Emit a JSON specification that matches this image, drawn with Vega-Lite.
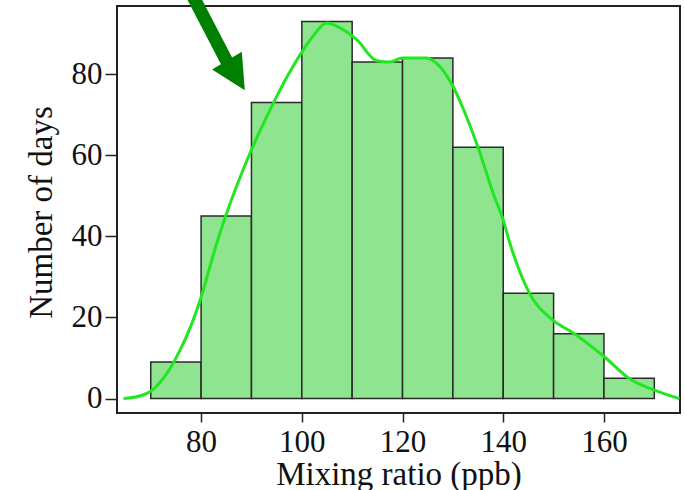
{
  "$schema": "https://vega.github.io/schema/vega-lite/v6.json",
  "autosize": "none",
  "width": 563,
  "height": 407,
  "padding": {"left": 117, "top": 6, "right": 5, "bottom": 77},
  "background": "white",
  "config": {
    "view": {"stroke": "#222", "strokeWidth": 2},
    "font": "Liberation Serif",
    "axis": {
      "labelFont": "Liberation Serif",
      "titleFont": "Liberation Serif",
      "labelColor": "#111",
      "titleColor": "#111",
      "labelFontSize": 31,
      "titleFontSize": 33,
      "titleFontWeight": "normal",
      "tickColor": "#222",
      "tickWidth": 1.5,
      "domain": false,
      "grid": false
    }
  },
  "datasets": {
    "bars": [
      {"bin_start": 70, "bin_end": 80, "days": 9},
      {"bin_start": 80, "bin_end": 90, "days": 45},
      {"bin_start": 90, "bin_end": 100, "days": 73},
      {"bin_start": 100, "bin_end": 110, "days": 93},
      {"bin_start": 110, "bin_end": 120, "days": 83},
      {"bin_start": 120, "bin_end": 130, "days": 84},
      {"bin_start": 130, "bin_end": 140, "days": 62},
      {"bin_start": 140, "bin_end": 150, "days": 26},
      {"bin_start": 150, "bin_end": 160, "days": 16},
      {"bin_start": 160, "bin_end": 170, "days": 5}
    ],
    "curve": [
      {"ratio": 64.6, "density": 0},
      {"ratio": 68, "density": 0.7},
      {"ratio": 70, "density": 1.8},
      {"ratio": 73.2, "density": 6.2},
      {"ratio": 75.8, "density": 11.9},
      {"ratio": 78, "density": 18},
      {"ratio": 80, "density": 25},
      {"ratio": 83.1, "density": 38.3},
      {"ratio": 84.6, "density": 44},
      {"ratio": 89.7, "density": 60.5},
      {"ratio": 93.7, "density": 71.2},
      {"ratio": 97.1, "density": 79.4},
      {"ratio": 100.3, "density": 86},
      {"ratio": 102.2, "density": 89.3},
      {"ratio": 105, "density": 92.6},
      {"ratio": 107.6, "density": 91.4},
      {"ratio": 110.9, "density": 88.5},
      {"ratio": 114.9, "density": 83.3},
      {"ratio": 117.5, "density": 83},
      {"ratio": 120, "density": 84},
      {"ratio": 124.7, "density": 84},
      {"ratio": 127.4, "density": 81.9},
      {"ratio": 130, "density": 77},
      {"ratio": 132.7, "density": 69.5},
      {"ratio": 135.4, "density": 60.5},
      {"ratio": 138, "density": 50.6},
      {"ratio": 140, "density": 44},
      {"ratio": 141.3, "density": 38.4},
      {"ratio": 145.2, "density": 26},
      {"ratio": 149.9, "density": 19.3},
      {"ratio": 153.9, "density": 16.2},
      {"ratio": 159.9, "density": 10.5},
      {"ratio": 165.1, "density": 4.9},
      {"ratio": 170.4, "density": 1.9},
      {"ratio": 175, "density": 0}
    ],
    "arrow_shaft": [
      {"x": 78.25, "y": 99.5, "x2": 85.5, "y2": 82.2}
    ],
    "arrow_head": [
      {"x": 88.68, "y": 76.0}
    ]
  },
  "layer": [
    {
      "data": {"name": "bars"},
      "mark": {"type": "bar", "fill": "#8fe48f", "stroke": "#2a2a2a", "strokeWidth": 1.5},
      "encoding": {
        "x": {
          "field": "bin_start",
          "type": "quantitative",
          "scale": {"domain": [63.3, 175.1], "nice": false, "zero": false},
          "axis": {
            "values": [80, 100, 120, 140, 160],
            "tickSize": 9,
            "labelPadding": 5,
            "title": "Mixing ratio (ppb)",
            "titleBaseline": "alphabetic",
            "titleY": 71
          }
        },
        "x2": {"field": "bin_end"},
        "y": {
          "field": "days",
          "type": "quantitative",
          "scale": {"domain": [-3.55, 96.8], "nice": false, "zero": false},
          "axis": {
            "values": [0, 20, 40, 60, 80],
            "tickSize": 12,
            "labelPadding": 3,
            "title": "Number of days",
            "titleBaseline": "alphabetic",
            "titleX": -66,
            "titleY": 206,
            "titleAngle": -90
          }
        },
        "y2": {"datum": 0}
      }
    },
    {
      "data": {"name": "curve"},
      "mark": {"type": "line", "color": "#22e622", "strokeWidth": 3, "interpolate": "monotone"},
      "encoding": {
        "x": {"field": "ratio", "type": "quantitative"},
        "y": {"field": "density", "type": "quantitative"}
      }
    },
    {
      "data": {"name": "arrow_shaft"},
      "mark": {"type": "rule", "color": "#008000", "strokeWidth": 13, "strokeCap": "butt", "clip": false},
      "encoding": {
        "x": {"field": "x", "type": "quantitative"},
        "y": {"field": "y", "type": "quantitative"},
        "x2": {"field": "x2"},
        "y2": {"field": "y2"}
      }
    },
    {
      "data": {"name": "arrow_head"},
      "mark": {
        "type": "point",
        "shape": "M0,0 L1.02,2.04 L-1.02,2.04 Z",
        "size": 1156,
        "angle": 149,
        "filled": true,
        "fill": "#008000",
        "stroke": null,
        "opacity": 1,
        "clip": false
      },
      "encoding": {
        "x": {"field": "x", "type": "quantitative"},
        "y": {"field": "y", "type": "quantitative"}
      }
    }
  ]
}
